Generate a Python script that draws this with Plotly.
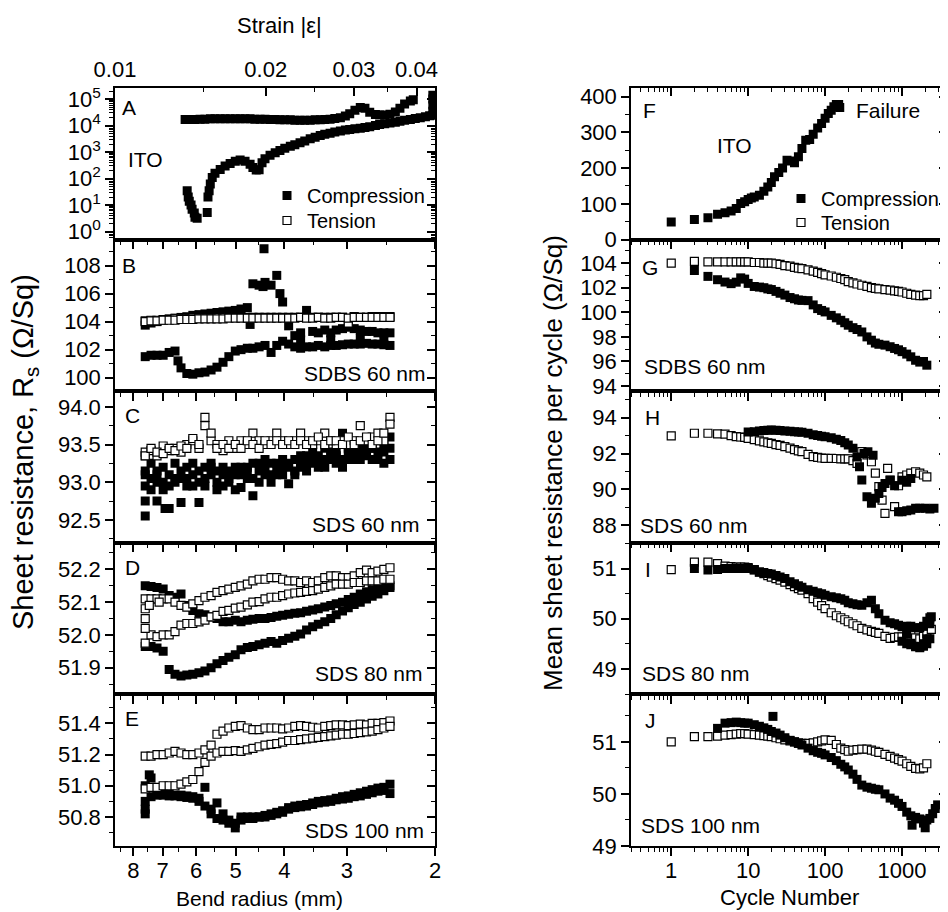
import math
import plotly.graph_objects as go

FONT = 'Liberation Sans, Arial, sans-serif'
OFF = 8                      # page margin of the html body
W, H = 948 - OFF, 912 - OFF

# ---------------- left column: resistance vs bend radius ----------------
# bend radii (mm) of one sweep, panels B-E
radius = [7.58, 7.38, 7.18, 6.98, 6.79, 6.61, 6.43, 6.26, 6.09, 5.92,
          5.76, 5.60, 5.45, 5.30, 5.16, 5.01, 4.88, 4.74, 4.62, 4.49,
          4.37, 4.25, 4.14, 4.03, 3.92, 3.81, 3.71, 3.61, 3.51, 3.42,
          3.32, 3.23, 3.15, 3.06, 2.98, 2.90, 2.82, 2.74, 2.67, 2.60,
          2.53, 2.46]

# A - ITO (log scale)
ito_r_upper = [6.31, 6.17, 6.03, 5.89, 5.76, 5.62, 5.50, 5.37, 5.25, 5.13,
               5.01, 4.90, 4.79, 4.68, 4.58, 4.47, 4.37, 4.27, 4.17, 4.08,
               3.99, 3.89, 3.81, 3.72, 3.64, 3.55, 3.47, 3.39, 3.32, 3.24,
               3.17, 3.09, 3.02, 2.96, 2.89, 2.82, 2.76, 2.70, 2.63, 2.58,
               2.52, 2.46, 2.40, 2.35, 2.30, 2.24, 2.21, 2.02, 2.02, 2.02,
               2.02]
ito_upper = [17000, 17000, 17000, 17500, 17500, 18000, 18000, 18000, 18000, 18000,
             18000, 18000, 18000, 18000, 17500, 17500, 17500, 17000, 17000, 16500,
             16500, 16500, 16000, 16000, 16000, 16000, 16500, 16500, 17000, 17500,
             18500, 20000, 23000, 28000, 38000, 48000, 45000, 32000, 26000, 25000,
             25000, 27000, 33000, 45000, 65000, 85000, 95000, 140000, 100000, 60000,
             35000]
ito_r_lower = [6.25, 6.22, 6.19, 6.14, 6.11, 6.05, 6.03, 5.97, 5.70, 5.68,
               5.65, 5.62, 5.57, 5.50, 5.37, 5.25, 5.13, 5.01, 4.90, 4.79,
               4.68, 4.62, 4.55, 4.49, 4.43, 4.37, 4.27, 4.17, 4.08, 3.99,
               3.89, 3.81, 3.72, 3.64, 3.55, 3.47, 3.39, 3.32, 3.24, 3.17,
               3.09, 3.02, 2.96, 2.89, 2.82, 2.76, 2.70, 2.63, 2.58, 2.52,
               2.46, 2.40, 2.35, 2.30, 2.24, 2.19, 2.14, 2.09, 2.05, 2.02]
ito_lower = [35, 20, 14, 10, 7, 5, 3.5, 3.2, 5.2, 20,
             35, 63, 110, 160, 220, 300, 370, 450, 500, 450,
             350, 260, 210, 215, 400, 560, 760, 950, 1150, 1400,
             1650, 1900, 2250, 2600, 3200, 3600, 4200, 4700, 5200, 5800,
             6300, 6800, 7200, 7600, 8000, 8500, 9100, 10000, 11000, 11700,
             12600, 13500, 14500, 15800, 17000, 18600, 20000, 21400, 23400, 24500]

# B - SDBS 60 nm
b_comp_out = [103.75, 103.9, 104.0, 104.1, 104.2, 104.25, 104.3, 104.35, 104.45, 104.5,
              104.55, 104.6, 104.65, 104.7, 104.75, 104.8, 104.9, 105.0, 106.7, 106.6,
              106.8, 106.6, 107.3, 105.4, 103.7, 103.0, 103.2, 104.8, 103.3, 103.2,
              103.4, 103.2, 103.4, 103.5, 103.6, 103.5, 103.4, 103.3, 103.3, 103.2,
              103.2, 103.2]
b_comp_back = [101.5, 101.6, 101.6, 101.6, 101.8, 101.9, 100.7, 100.3, 100.25, 100.35,
               100.4, 100.55, 100.75, 101.1, 101.5, 101.9, 102.0, 102.1, 102.1, 102.2,
               102.3, 101.8, 102.3, 102.6, 102.4, 102.2, 102.1, 102.2, 102.2, 102.3,
               102.2, 102.3, 102.3, 102.35, 102.4, 102.4, 102.4, 102.45, 102.4, 102.4,
               102.35, 102.3]
b_extra_r = [4.08, 4.39, 4.68, 4.41, 3.23, 2.82, 2.53, 3.71, 6.52]
b_extra = [106.0, 109.2, 103.8, 106.5, 102.7, 102.8, 102.8, 102.7, 101.2]
b_tens_out = [104.05, 104.1, 104.1, 104.15, 104.15, 104.2, 104.2, 104.2, 104.25, 104.25,
              104.25, 104.25, 104.3, 104.3, 104.3, 104.3, 104.3, 104.3, 104.3, 104.3,
              104.3, 104.3, 104.3, 104.3, 104.3, 104.3, 104.3, 104.3, 104.3, 104.3,
              104.3, 104.3, 104.3, 104.3, 103.9, 104.35, 104.3, 104.3, 104.35, 104.35,
              104.35, 104.35]
b_tens_back = [104.0, 104.05, 104.05, 104.1, 104.1, 104.1, 104.15, 104.15, 104.15, 104.2,
               104.2, 104.2, 104.2, 104.2, 104.25, 104.25, 104.25, 104.25, 104.25, 104.25,
               104.25, 104.25, 104.25, 104.25, 104.25, 104.25, 104.3, 104.25, 104.25, 104.3,
               104.25, 104.25, 104.3, 104.3, 104.25, 104.3, 104.3, 104.3, 104.3, 104.3,
               104.3, 104.3]

# C - SDS 60 nm
c_comp_out = [93.35, 93.25, 93.0, 93.2, 92.95, 93.25, 92.73, 93.2, 93.1, 92.73,
              93.2, 93.1, 93.15, 92.95, 93.15, 93.1, 92.93, 93.05, 92.82, 93.0,
              93.3, 93.1, 93.25, 93.3, 92.98, 93.3, 93.35, 93.25, 93.4, 93.2,
              93.45, 93.3, 93.25, 93.65, 93.4, 93.45, 93.35, 93.5, 93.3, 93.55,
              93.4, 93.6]
c_comp_mid = [93.1, 93.05, 93.15, 92.9, 93.1, 93.05, 93.15, 93.05, 92.95, 93.15,
              93.05, 93.2, 92.9, 93.1, 93.0, 93.2, 93.1, 93.2, 93.05, 93.25,
              93.2, 93.0, 93.1, 93.2, 93.25, 93.1, 93.25, 93.15, 93.3, 93.3,
              93.2, 93.35, 93.4, 93.2, 93.3, 93.35, 93.3, 93.4, 93.45, 93.3,
              93.5, 93.45]
c_comp_back = [92.55, 92.9, 92.75, 93.0, 92.65, 93.0, 93.05, 92.95, 93.25, 93.0,
               92.95, 93.25, 93.0, 93.2, 93.05, 92.9, 93.2, 93.15, 93.25, 93.15,
               93.1, 93.25, 93.15, 93.1, 93.2, 93.15, 93.2, 93.35, 93.25, 93.35,
               93.3, 93.4, 93.35, 93.3, 93.45, 93.3, 93.45, 93.35, 93.45, 93.4,
               93.25, 93.3]
c_extra_r = [7.58, 7.58, 7.58, 7.18, 6.92]
c_extra = [92.75, 93.15, 92.95, 93.1, 92.65]
c_tens_out = [93.4, 93.42, 93.35, 93.48, 93.42, 93.45, 93.4, 93.5, 93.55, 93.45,
              93.86, 93.55, 93.5, 93.42, 93.55, 93.45, 93.55, 93.5, 93.65, 93.55,
              93.5, 93.55, 93.65, 93.55, 93.5, 93.55, 93.65, 93.55, 93.5, 93.55,
              93.65, 93.55, 93.5, 93.55, 93.5, 93.55, 93.75, 93.55, 93.6, 93.65,
              93.55, 93.86]
c_tens_back = [93.35, 93.45, 93.4, 93.38, 93.45, 93.42, 93.48, 93.45, 93.58, 93.5,
               93.75, 93.65, 93.45, 93.5, 93.45, 93.5, 93.45, 93.55, 93.5, 93.45,
               93.55, 93.5, 93.55, 93.5, 93.55, 93.5, 93.55, 93.5, 93.55, 93.6,
               93.5, 93.55, 93.55, 93.5, 93.6, 93.5, 93.55, 93.6, 93.5, 93.55,
               93.65, 93.77]

# D - SDS 80 nm
d_comp_out = [52.15, 52.148, 52.145, 52.14, 52.12, 52.115, 52.125, 52.09, 52.075, 52.065,
              52.062, 52.055, 52.05, 52.04, 52.04, 52.045, 52.04, 52.045, 52.048, 52.05,
              52.05, 52.053, 52.057, 52.06, 52.063, 52.066, 52.068, 52.072, 52.076, 52.08,
              52.085, 52.09, 52.095, 52.1, 52.108, 52.115, 52.125, 52.132, 52.138, 52.142,
              52.148, 52.15]
d_comp_back = [51.965, 51.965, 51.96, 51.95, 51.895, 51.88, 51.875, 51.878, 51.88, 51.885,
               51.89, 51.9, 51.912, 51.922, 51.932, 51.94, 51.955, 51.962, 51.965, 51.97,
               51.975, 51.98, 51.975, 51.983, 51.99, 51.996, 52.003, 52.015, 52.025, 52.033,
               52.04, 52.05, 52.062, 52.073, 52.083, 52.093, 52.1, 52.11, 52.118, 52.125,
               52.135, 52.145]
d_tens_out = [52.11, 52.11, 52.11, 52.11, 52.11, 52.1, 52.09, 52.085, 52.095, 52.105,
              52.115, 52.12, 52.13, 52.135, 52.14, 52.145, 52.15, 52.155, 52.165, 52.17,
              52.17, 52.175, 52.175, 52.17, 52.165, 52.165, 52.16, 52.165, 52.16, 52.165,
              52.175, 52.18, 52.18, 52.175, 52.175, 52.18, 52.19, 52.198, 52.19, 52.195,
              52.2, 52.205]
d_tens_back = [51.975, 52.0, 51.995, 52.0, 52.0, 52.01, 52.03, 52.035, 52.035, 52.04,
               52.045, 52.055, 52.06, 52.072, 52.075, 52.082, 52.085, 52.092, 52.1, 52.102,
               52.11, 52.115, 52.115, 52.12, 52.125, 52.128, 52.13, 52.133, 52.135, 52.14,
               52.145, 52.15, 52.155, 52.155, 52.155, 52.16, 52.16, 52.165, 52.165, 52.165,
               52.17, 52.17]
d_tens_extra_r = [7.58, 7.58, 7.58, 7.44, 7.11]
d_tens_extra = [52.02, 52.05, 52.08, 52.09, 52.1]

# E - SDS 100 nm
e_comp_out = [50.85, 51.05, 50.97, 50.95, 50.945, 50.94, 50.94, 50.935, 50.93, 50.92,
              50.99, 50.85, 50.89, 50.82, 50.78, 50.76, 50.8, 50.8, 50.8, 50.8,
              50.81, 50.82, 50.83, 50.84, 50.86, 50.87, 50.875, 50.88, 50.89, 50.9,
              50.905, 50.91, 50.92, 50.93, 50.935, 50.945, 50.955, 50.965, 50.975, 50.985,
              50.99, 51.01]
e_comp_back = [50.9, 50.93, 50.94, 50.94, 50.935, 50.935, 50.93, 50.925, 50.92, 50.9,
               50.87, 50.82, 50.79, 50.78, 50.76, 50.73, 50.78, 50.79, 50.79, 50.8,
               50.8, 50.81, 50.82, 50.83, 50.85, 50.86, 50.865, 50.87, 50.88, 50.89,
               50.895, 50.9, 50.91, 50.915, 50.92, 50.93, 50.935, 50.945, 50.955, 50.965,
               50.97, 50.95]
e_extra_r = [7.58, 7.58, 7.44]
e_extra = [50.82, 51.0, 51.07]
e_tens_out = [51.19, 51.19, 51.2, 51.2, 51.21, 51.22, 51.21, 51.2, 51.2, 51.21,
              51.23, 51.26, 51.33, 51.35, 51.37, 51.38, 51.385, 51.37, 51.36, 51.36,
              51.37, 51.37, 51.37, 51.365, 51.37, 51.38, 51.385, 51.38, 51.375, 51.37,
              51.38, 51.385, 51.39, 51.39, 51.385, 51.39, 51.395, 51.39, 51.4, 51.4,
              51.405, 51.415]
e_tens_back = [50.98, 50.99, 50.99, 51.0, 51.0, 51.0, 51.01, 51.025, 51.04, 51.09,
               51.15, 51.19, 51.21, 51.22, 51.22, 51.225, 51.22, 51.23, 51.24, 51.25,
               51.26, 51.265, 51.27, 51.28, 51.29, 51.29, 51.295, 51.3, 51.305, 51.31,
               51.315, 51.32, 51.325, 51.33, 51.33, 51.335, 51.34, 51.345, 51.35, 51.36,
               51.37, 51.38]

# ---------------- right column: mean resistance vs cycle ----------------
f_cyc = [1, 2, 3, 4, 5, 6, 7, 8, 9, 10, 11, 12, 14, 16, 18, 20, 22, 25, 28, 32,
         36, 40, 45, 50, 56, 63, 70, 80, 90, 100, 110, 120, 130, 140, 150, 155]
f_comp = [49, 56, 61, 71, 75, 80, 87, 101, 106, 112, 116, 119, 124, 135, 147, 160, 176, 188, 200, 222,
          220, 215, 232, 255, 278, 280, 295, 312, 325, 340, 353, 362, 372, 378, 378, 370]

cycles = [1, 2, 3, 4, 5, 6, 7, 8, 9, 10, 12, 14, 16, 18, 20, 23, 26, 30, 35, 40,
          45, 50, 60, 70, 80, 90, 100, 120, 140, 160, 180, 200, 230, 260, 300, 350, 400, 450, 500, 600,
          700, 800, 900, 1000, 1150, 1300, 1500, 1700, 1900, 2100]

g_tens = [104.0, 104.14, 104.1, 104.1, 104.1, 104.1, 104.1, 104.1, 104.1, 104.1,
          104.05, 104.05, 104.0, 104.0, 104.0, 103.95, 103.9, 103.8, 103.75, 103.65,
          103.6, 103.55, 103.45, 103.35, 103.25, 103.15, 103.05, 102.95, 102.85, 102.75,
          102.65, 102.5, 102.4, 102.3, 102.2, 102.1, 102.0, 101.95, 101.9, 101.85,
          101.8, 101.75, 101.7, 101.65, 101.55, 101.45, 101.4, 101.35, 101.35, 101.45]
g_comp = [103.4, 102.92, 102.65, 102.46, 102.33, 102.45, 102.8, 102.7, 102.35,
          102.1, 102.05, 102.0, 101.9, 101.85, 101.7, 101.55, 101.4, 101.2, 101.1,
          101.0, 100.97, 100.95, 100.6, 100.3, 100.15, 100.03, 99.75, 99.55, 99.35,
          99.15, 98.95, 98.75, 98.6, 98.4, 98.0, 97.73, 97.5, 97.4, 97.33,
          97.2, 97.06, 96.95, 96.8, 96.6, 96.38, 96.1, 95.95, 96.0, 95.7]

h_cyc_t = [1, 2, 3, 4, 5, 6, 7, 8, 9, 10, 12, 14, 16, 18, 20, 23, 26, 30, 35, 40,
           45, 50, 60, 70, 80, 90, 100, 120, 140, 160, 180, 200, 230, 260, 300, 350, 400, 450, 500, 550,
           600, 650, 700, 800, 900, 1000, 1150, 1300, 1500, 1700, 1900, 2100]
h_tens = [92.98, 93.13, 93.13, 93.1, 93.08, 93.0, 92.94, 92.92, 92.9, 92.85,
          92.78, 92.7, 92.65, 92.6, 92.57, 92.5, 92.45, 92.38, 92.3, 92.22,
          92.15, 92.1, 91.95, 91.82, 91.78, 91.75, 91.73, 91.73, 91.72, 91.7,
          91.7, 91.7, 91.6, 91.45, 92.1, 91.92, 91.54, 90.9, 90.15, 89.4,
          88.66, 91.17, 90.52, 89.03, 90.2, 90.7, 90.8, 90.9, 90.98, 90.9,
          90.8, 90.7]
h_cyc_c = [10, 12, 14, 16, 18, 20, 23, 26, 30, 35, 40, 45, 50, 60, 70, 80, 90, 100, 120, 140,
           160, 180, 200, 230, 260, 280, 300, 350, 400, 450, 500, 550, 600, 700, 800, 900, 1000, 1150, 1300, 1500,
           1700, 2000, 2300, 2600, 320, 360, 420, 1000, 1150, 1300]
h_comp = [93.2, 93.22, 93.25, 93.28, 93.3, 93.31, 93.3, 93.28, 93.26, 93.24,
          93.22, 93.2, 93.18, 93.13, 93.05, 93.0, 92.97, 92.94, 92.88, 92.8,
          92.72, 92.6, 92.47, 92.3, 91.8, 91.26, 90.52, 89.59, 89.22, 89.5,
          89.77, 90.1, 90.33, 90.5, 90.2, 88.75, 88.75, 88.8, 88.84, 88.94,
          88.94, 88.94, 88.9, 88.94, 92.0, 92.1, 91.9, 90.5, 90.4, 90.6]

i_cyc_t = cycles + [2400]
i_tens = [50.98, 51.13, 51.13, 51.1, 51.05, 51.04, 51.03, 51.03, 51.03, 51.02,
          50.98, 50.93, 50.9, 50.86, 50.83, 50.8, 50.77, 50.73, 50.68, 50.64,
          50.6, 50.57, 50.5, 50.4, 50.33, 50.26, 50.2, 50.12, 50.06, 50.02,
          49.98, 49.94, 49.9, 49.86, 49.81, 49.78, 49.75, 49.73, 49.71, 49.65,
          49.61, 49.63, 49.64, 49.64, 49.66, 49.68, 49.62, 49.6, 49.65, 49.7,
          49.79]
i_cyc_c = [2, 3, 4, 5, 6, 7, 8, 9, 10, 12, 14, 16, 18, 20, 23, 26, 30, 35, 40, 45,
           50, 60, 70, 80, 90, 100, 120, 140, 160, 180, 200, 230, 260, 300, 350, 400, 450, 500, 600, 700,
           800, 900, 1000, 1150, 1300, 1500, 1700, 1900, 2100, 2300, 2400,
           1000, 1150, 1300, 1500, 1700, 1900, 2100, 2300,
           1150, 1300, 1500, 1700, 1900, 2100, 2300]
i_comp = [51.0, 50.97, 50.98, 51.0, 51.0, 51.0, 51.0, 51.0, 51.0, 50.97,
          50.93, 50.92, 50.9, 50.89, 50.86, 50.83, 50.8, 50.74, 50.7, 50.66,
          50.63, 50.58, 50.55, 50.52, 50.5, 50.47, 50.44, 50.42, 50.4, 50.37,
          50.32, 50.3, 50.28, 50.27, 50.32, 50.37, 50.2, 50.1, 49.97, 49.92,
          49.9, 49.87, 49.84, 49.7, 49.51, 49.44, 49.44, 49.5, 49.6, 49.9,
          50.04,
          49.55, 49.5, 49.48, 49.45, 49.42, 49.45, 49.5, 49.6,
          49.85, 49.85, 49.82, 49.82, 49.85, 49.95, 50.02]

j_tens = [51.0, 51.1, 51.1, 51.11, 51.13, 51.14, 51.15, 51.16, 51.16, 51.15,
          51.14, 51.13, 51.12, 51.11, 51.1, 51.08, 51.06, 51.04, 51.02, 51.0,
          50.98, 50.97, 50.97, 50.98, 51.0, 51.02, 51.04, 51.03, 50.95, 50.88,
          50.85, 50.82, 50.84, 50.85, 50.86, 50.86, 50.84, 50.82, 50.8, 50.76,
          50.72, 50.69, 50.66, 50.63, 50.58, 50.53, 50.49, 50.48, 50.5, 50.58]
j_cyc_c = [4, 5, 6, 7, 8, 9, 10, 12, 14, 16, 18, 20, 21, 23, 26, 30, 35, 40, 45, 50,
           60, 70, 80, 90, 100, 120, 140, 160, 180, 200, 230, 260, 300, 350, 400, 450, 500, 600, 700, 800,
           900, 1000, 1150, 1300, 1500, 1700, 1900, 2100, 2300, 2500, 2700, 2900, 1350, 2000]
j_comp = [51.26, 51.36, 51.37, 51.38, 51.37, 51.36, 51.36, 51.33, 51.3, 51.27,
          51.24, 51.2, 51.49, 51.17, 51.13, 51.08, 51.03, 51.0, 50.97, 50.94,
          50.88, 50.83, 50.8, 50.78, 50.75, 50.7, 50.64, 50.57, 50.52, 50.46,
          50.38, 50.28, 50.17, 50.13, 50.11, 50.09, 50.08, 50.0, 49.92, 49.88,
          49.82, 49.76, 49.65, 49.58, 49.55, 49.52, 49.44, 49.5, 49.53, 49.62,
          49.72, 49.79, 49.4, 49.35]

# tick labels
radius_ticks = [2, 3, 4, 5, 6, 7, 8]
strain_ticks = [0.01, 0.02, 0.03, 0.04]
strain_text = ['0.01', '0.02', '0.03', '0.04']
ito_ticks = [1, 10, 100, 1000, 10000, 100000]
ito_text = ['10<sup>0</sup>', '10<sup>1</sup>', '10<sup>2</sup>', '10<sup>3</sup>', '10<sup>4</sup>', '10<sup>5</sup>']
cycle_ticks = [1, 10, 100, 1000]
cycle_text = ['1', '10', '100', '1000']


def px(x):
    return (x - OFF) / W


def py(y):
    return 1 - (y - OFF) / H


LEFT = [px(115), px(435)]
RIGHT = [px(631), px(947)]
ROWS = [88, 239.5, 391, 542.5, 694, 846]

FILLED = dict(symbol='square', size=9, color='black', line=dict(width=0))
OPEN = dict(symbol='square', size=8, color='white', line=dict(color='black', width=1.2))


def ax_id(prefix, k):
    return prefix if k == 1 else f'{prefix}{k}'


def pts(x, y, k, marker, name=None, legend=None):
    return go.Scatter(x=x, y=y, mode='markers', marker=marker,
                      xaxis=ax_id('x', k), yaxis=ax_id('y', k),
                      name=name, showlegend=legend is not None, legend=legend or 'legend')


fig = go.Figure()

# A
fig.add_trace(pts(ito_r_upper, ito_upper, 1, FILLED))
fig.add_trace(pts(ito_r_lower, ito_lower, 1, FILLED))
# B
fig.add_trace(pts(radius + radius + b_extra_r, b_comp_out + b_comp_back + b_extra, 2, FILLED,
                  'Compression', 'legend'))
fig.add_trace(pts(radius + radius, b_tens_out + b_tens_back, 2, OPEN, 'Tension', 'legend3'))
# C
fig.add_trace(pts(radius * 3 + c_extra_r, c_comp_out + c_comp_mid + c_comp_back + c_extra, 3, FILLED))
fig.add_trace(pts(radius + radius, c_tens_out + c_tens_back, 3, OPEN))
# D
fig.add_trace(pts(radius + radius, d_comp_out + d_comp_back, 4, FILLED))
fig.add_trace(pts(radius + radius + d_tens_extra_r, d_tens_out + d_tens_back + d_tens_extra, 4, OPEN))
# E
fig.add_trace(pts(radius + radius + e_extra_r, e_comp_out + e_comp_back + e_extra, 5, FILLED))
fig.add_trace(pts(radius + radius, e_tens_out + e_tens_back, 5, OPEN))
# F
fig.add_trace(pts(f_cyc, f_comp, 6, FILLED))
# G
fig.add_trace(pts(cycles[1:], g_comp, 7, FILLED, 'Compression', 'legend2'))
fig.add_trace(pts(cycles, g_tens, 7, OPEN, 'Tension', 'legend4'))
# H
fig.add_trace(pts(h_cyc_t, h_tens, 8, OPEN))
fig.add_trace(pts(h_cyc_c, h_comp, 8, FILLED))
# I
fig.add_trace(pts(i_cyc_t, i_tens, 9, OPEN))
fig.add_trace(pts(i_cyc_c, i_comp, 9, FILLED))
# J
fig.add_trace(pts(cycles, j_tens, 10, OPEN))
fig.add_trace(pts(j_cyc_c, j_comp, 10, FILLED))

tickfont = dict(family=FONT, size=22, color='black')
base = dict(showline=True, linecolor='black', linewidth=1.5, ticks='outside', ticklen=8,
            tickwidth=1.5, tickcolor='black', showgrid=False, zeroline=False,
            automargin=False, tickfont=tickfont)
minor = dict(ticks='outside', ticklen=4, tickwidth=1.2, tickcolor='black', showgrid=False)

yspecs = [
    dict(type='log', range=[-0.3, 5.42], tickvals=ito_ticks, ticktext=ito_text,
         minor=dict(minor, dtick='D1')),
    dict(range=[99.05, 109.86], tick0=100, dtick=2, minor=dict(minor, tick0=100, dtick=1)),
    dict(range=[92.2, 94.21], tick0=92.5, dtick=0.5, tickformat='.1f',
         minor=dict(minor, tick0=92.5, dtick=0.25)),
    dict(range=[51.82, 52.282], tick0=51.9, dtick=0.1, tickformat='.1f',
         minor=dict(minor, tick0=51.9, dtick=0.05)),
    dict(range=[50.614, 51.588], tick0=50.8, dtick=0.2, tickformat='.1f',
         minor=dict(minor, tick0=50.8, dtick=0.1)),
    dict(range=[0, 424.4], tick0=0, dtick=100, minor=dict(minor, tick0=0, dtick=50)),
    dict(range=[93.6, 105.92], tick0=94, dtick=2, minor=dict(minor, tick0=94, dtick=1)),
    dict(range=[87.03, 95.49], tick0=88, dtick=2, minor=dict(minor, tick0=88, dtick=1)),
    dict(range=[48.5, 51.52], tick0=49, dtick=1, minor=dict(minor, tick0=49, dtick=0.5)),
    dict(range=[49, 51.92], tick0=49, dtick=1, minor=dict(minor, tick0=49, dtick=0.5)),
]

layout = {}
for i in range(10):
    k = i + 1
    row = i % 5
    dom_y = [py(ROWS[row + 1]), py(ROWS[row])]
    if i < 5:
        xa = dict(base, type='log', range=[math.log10(8.71), math.log10(2)],
                  tickvals=radius_ticks, ticktext=[str(v) for v in radius_ticks],
                  minor=dict(minor, tickvals=[2.5, 3.5, 4.5, 5.5, 6.5, 7.5, 8.5]),
                  domain=LEFT, mirror=True, showticklabels=(row == 4))
    else:
        xa = dict(base, type='log', range=[math.log10(0.3), math.log10(3840)],
                  tickvals=cycle_ticks, ticktext=cycle_text,
                  minor=dict(minor, dtick='D1'),
                  domain=RIGHT, mirror=True, showticklabels=(row == 4))
    xa['anchor'] = ax_id('y', k)
    if row == 4:
        xa['ticklabelstandoff'] = -4
    ya = dict(base, **yspecs[i])
    ya.update(domain=dom_y, anchor=ax_id('x', k), mirror=True)
    layout[ax_id('xaxis', k)] = xa
    layout[ax_id('yaxis', k)] = ya

    # inward ticks on the right-hand frame
    rk = 11 + k
    spec = dict(yspecs[i])
    spec['minor'] = dict(spec['minor'], ticks='inside')
    layout[f'yaxis{rk}'] = dict(base, **spec)
    layout[f'yaxis{rk}'].update(overlaying=ax_id('y', k), anchor=ax_id('x', k), side='right',
                                ticks='inside', showline=False, showticklabels=False)
    fig.add_trace(go.Scatter(x=[], y=[], xaxis=ax_id('x', k), yaxis=f'y{rk}', showlegend=False))

# strain axis on top of panel A
layout['xaxis11'] = dict(base, overlaying='x', anchor='y', side='top', type='log',
                         range=[-2, math.log10(0.04355)], tickvals=strain_ticks, ticktext=strain_text,
                         ticks='inside', showline=False, domain=LEFT, ticklabelstandoff=6,
                         minor=dict(minor, ticks='inside', tickvals=[0.015, 0.025, 0.035]))
fig.add_trace(go.Scatter(x=[], y=[], xaxis='x11', yaxis='y', showlegend=False))

# inward ticks on the top frame of panel F
layout['xaxis22'] = dict(base, overlaying='x6', anchor='y6', side='top', type='log',
                         range=[math.log10(0.3), math.log10(3840)], tickvals=cycle_ticks,
                         ticks='inside', showline=False, showticklabels=False, domain=RIGHT,
                         minor=dict(minor, ticks='inside', dtick='D1'))
fig.add_trace(go.Scatter(x=[], y=[], xaxis='x22', yaxis='y6', showlegend=False))


def note(text, x, y, anchor='left', size=21, **kw):
    return dict(text=text, x=px(x), y=py(y), xref='paper', yref='paper', xanchor=anchor,
                yanchor='middle', showarrow=False,
                font=dict(family=FONT, size=size, color='black'), **kw)


annotations = [
    note('A', 120, 107), note('ITO', 145, 159, 'center'),
    note('B', 120, 265), note('SDBS 60 nm', 427, 373, 'right'),
    note('C', 123, 415), note('SDS 60 nm', 421, 524, 'right'),
    note('D', 123, 567), note('SDS 80 nm', 424, 673, 'right'),
    note('E', 123, 718), note('SDS 100 nm', 426, 830, 'right'),
    note('F', 641, 110), note('ITO', 734, 146, 'center'), note('Failure', 854, 110),
    note('G', 640, 267), note('SDBS 60 nm', 642, 367),
    note('H', 643, 417), note('SDS 60 nm', 638, 525),
    note('I', 643, 569), note('SDS 80 nm', 640, 673),
    note('J', 643, 720), note('SDS 100 nm', 639, 825),
    note('Strain |ε|', 279, 25, 'center', 22),
    note('Bend radius (mm)', 259, 898, 'center', 21),
    note('Cycle Number', 789, 897, 'center', 22),
    note('Sheet resistance, R<sub>s</sub> (Ω/Sq)', 25, 452, 'center', 29, textangle=-90),
    note('Mean sheet resistance per cycle (Ω/Sq)', 553, 463, 'center', 26, textangle=-90),
]

legend_style = dict(xanchor='left', yanchor='top', bgcolor='rgba(0,0,0,0)', borderwidth=0,
                    font=dict(family=FONT, size=20, color='black'), tracegroupgap=0)

fig.update_layout(
    width=W, height=H, template='none',
    margin=dict(l=0, r=0, t=0, b=0),
    paper_bgcolor='white', plot_bgcolor='white',
    font=dict(family=FONT, color='black'),
    annotations=annotations,
    legend=dict(legend_style, x=px(267), y=py(176)),
    legend3=dict(legend_style, x=px(267), y=py(201)),
    legend2=dict(legend_style, x=px(781), y=py(179)),
    legend4=dict(legend_style, x=px(781), y=py(203)),
    **layout,
)

fig.write_html('out.html')
